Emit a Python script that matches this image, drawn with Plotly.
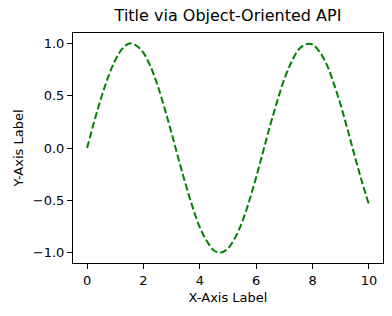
import plotly.graph_objects as go

x_vals = [0, 0.25, 0.5, 0.75, 1.0, 1.25, 1.5, 1.75, 2.0, 2.25, 2.5, 2.75, 3.0, 3.25, 3.5, 3.75,
          4.0, 4.25, 4.5, 4.75, 5.0, 5.25, 5.5, 5.75, 6.0, 6.25, 6.5, 6.75, 7.0, 7.25, 7.5, 7.75,
          8.0, 8.25, 8.5, 8.75, 9.0, 9.25, 9.5, 9.75, 10.0]
y_vals = [0.00, 0.25, 0.48, 0.68, 0.84, 0.95, 1.00, 0.98, 0.91, 0.78, 0.60, 0.38, 0.14, -0.11, -0.35, -0.57,
          -0.76, -0.89, -0.98, -1.00, -0.96, -0.86, -0.71, -0.51, -0.28, -0.03, 0.22, 0.45, 0.66, 0.82, 0.94, 0.99,
          0.99, 0.92, 0.80, 0.62, 0.41, 0.17, -0.08, -0.32, -0.54]
x_ticks = [0, 2, 4, 6, 8, 10]
y_ticks = [-1.0, -0.5, 0.0, 0.5, 1.0]
y_tick_text = ["\u22121.0", "\u22120.5", "0.0", "0.5", "1.0"]

fig = go.Figure()
fig.add_trace(go.Scatter(x=x_vals, y=y_vals, mode="lines",
                         line=dict(color="#008000", width=2, dash="7px,3px", shape="spline")))

font = "DejaVu Sans"
axis_common = dict(showline=True, linecolor="black", linewidth=1, mirror=True,
                   ticks="outside", ticklen=5, tickwidth=1, tickcolor="black",
                   showgrid=False, zeroline=False,
                   tickfont=dict(family=font, size=13, color="black"))

fig.update_layout(
    width=392, height=316,
    margin=dict(l=73, r=9, t=33, b=53),
    plot_bgcolor="white", paper_bgcolor="white",
    showlegend=False,
    title=dict(text="Title via Object-Oriented API", x=0.5, xref="paper", y=1, yref="container",
               yanchor="top", pad=dict(t=10),
               font=dict(family=font, size=16, color="black")),
    xaxis=dict(range=[-0.5, 10.5], tickvals=x_ticks, ticktext=[str(v) for v in x_ticks],
               title=dict(text="X-Axis Label", standoff=6, font=dict(family=font, size=13, color="black")),
               **axis_common),
    yaxis=dict(range=[-1.1, 1.1], tickvals=y_ticks, ticktext=y_tick_text,
               title=dict(text="Y-Axis Label", standoff=6, font=dict(family=font, size=13, color="black")),
               **axis_common),
)

fig.write_html("out.html")
